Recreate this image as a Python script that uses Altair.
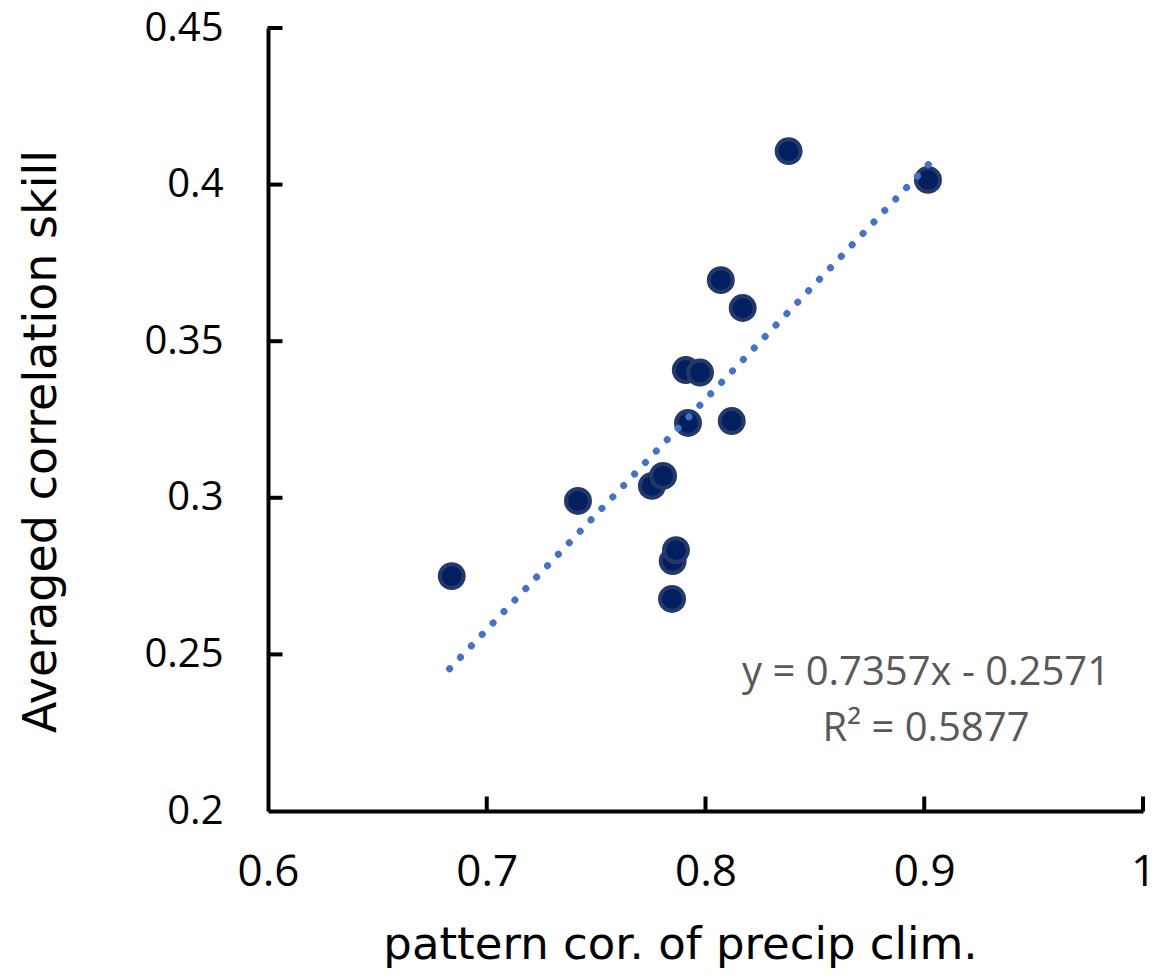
import altair as alt
import pandas as pd

# Data
pattern_cor = [0.684, 0.7417, 0.7755, 0.7806, 0.7847, 0.785, 0.7865, 0.792, 0.791, 0.7975,
               0.812, 0.807, 0.817, 0.838, 0.9017]
avg_skill = [0.275, 0.299, 0.3038, 0.307, 0.2677, 0.2798, 0.2833, 0.3239, 0.3408, 0.340,
             0.3245, 0.3695, 0.3606, 0.4107, 0.4015]

trend_x = [0.683, 0.903]
trend_y = [0.2454, 0.4072]

x_ticks = [0.7, 0.8, 0.9, 1.0]
y_ticks = [0.25, 0.3, 0.35, 0.4, 0.45]
x_labels = [0.6, 0.7, 0.8, 0.9, 1.0]
y_labels = [0.2, 0.25, 0.3, 0.35, 0.4, 0.45]

eq_text = ["y = 0.7357x - 0.2571", "R² = 0.5877"]

pts = pd.DataFrame({"x": pattern_cor, "y": avg_skill})
trend = pd.DataFrame({"x": trend_x, "y": trend_y})

xscale = alt.Scale(domain=[0.6, 1.0], nice=False, zero=False)
yscale = alt.Scale(domain=[0.2, 0.45], nice=False, zero=False)

FONT = "Open Sans"
TFONT = "DejaVu Sans"

xaxis = alt.Axis(values=x_labels, format="~g", ticks=False, grid=False,
                 domainColor="black", domainWidth=4, labelFlush=False,
                 labelFont=FONT, labelFontSize=44, labelColor="black",
                 labelPadding=39, title="pattern cor. of precip clim.",
                 titleFont=TFONT, titleFontSize=45, titleFontWeight="normal",
                 titleColor="black", titleX=412, titleY=147,
                 titleBaseline="alphabetic", titleAlign="center")
yaxis = alt.Axis(values=y_labels, format="~g", ticks=False, grid=False,
                 domainColor="black", domainWidth=4, labelFlush=False,
                 labelFont=FONT, labelFontSize=40, labelColor="black",
                 labelPadding=45, title="Averaged correlation skill",
                 titleFont=TFONT, titleFontSize=46, titleFontWeight="normal",
                 titleColor="black", titleX=-213, titleY=413, titleAngle=270,
                 titleBaseline="alphabetic", titleAlign="center")

points = alt.Chart(pts).mark_point(
    filled=True, shape="circle", size=572, fill="#022060", stroke="#24396a",
    strokeWidth=4, opacity=1
).encode(
    x=alt.X("x:Q", scale=xscale, axis=xaxis),
    y=alt.Y("y:Q", scale=yscale, axis=yaxis),
)

line = alt.Chart(trend).mark_line(
    color="#4472c4", strokeWidth=7, strokeDash=[0.1, 15.7], strokeCap="round"
).encode(
    x=alt.X("x:Q", scale=xscale),
    y=alt.Y("y:Q", scale=yscale),
)

xt = alt.Chart(pd.DataFrame({"x": x_ticks})).mark_tick(
    orient="vertical", size=15, thickness=4, color="black", opacity=1, yOffset=-7
).encode(
    x=alt.X("x:Q", scale=xscale),
    y=alt.datum(0.2),
)

yt = alt.Chart(pd.DataFrame({"y": y_ticks})).mark_tick(
    orient="horizontal", size=15, thickness=4, color="black", opacity=1, xOffset=7
).encode(
    y=alt.Y("y:Q", scale=yscale),
    x=alt.datum(0.6),
)

eq1 = alt.Chart(pd.DataFrame({"t": [eq_text[0]]})).mark_text(
    font=FONT, fontSize=40, color="#595959", align="center", baseline="middle"
).encode(
    text="t:N",
    x=alt.value(658),
    y=alt.value(645),
)

eq2 = alt.Chart(pd.DataFrame({"t": [eq_text[1]]})).mark_text(
    font=FONT, fontSize=40, color="#595959", align="center", baseline="middle"
).encode(
    text="t:N",
    x=alt.value(658),
    y=alt.value(701),
)

chart = alt.layer(points, line, xt, yt, eq1, eq2).properties(
    width=875, height=783,
    autosize=alt.AutoSizeParams(type="none"),
    padding={"left": 260, "top": 20, "right": 6, "bottom": 158},
).configure_view(stroke=None)

chart.save("out.html", embed_options={"renderer": "svg", "actions": False})
